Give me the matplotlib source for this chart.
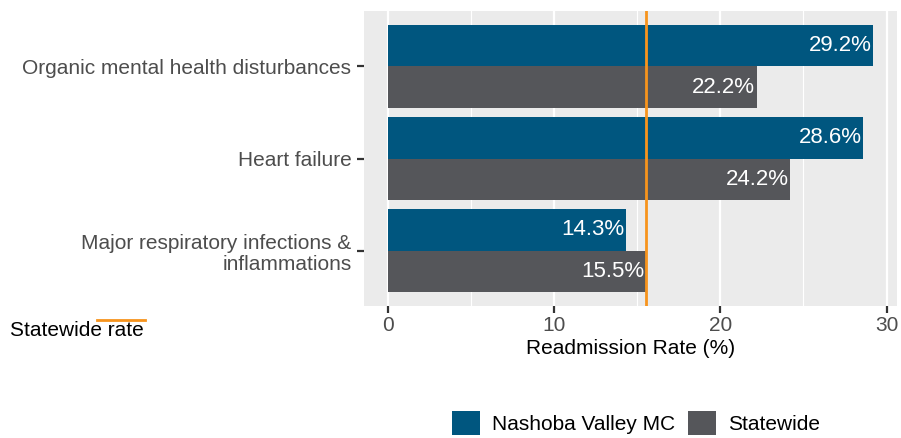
import matplotlib
matplotlib.use("Agg")
import matplotlib.pyplot as plt
from matplotlib.patches import Patch
from matplotlib.lines import Line2D
import numpy as np

plt.rcParams['font.family'] = ['Liberation Sans', 'DejaVu Sans']

categories = ["Organic mental health disturbances", "Heart failure",
              "Major respiratory infections &\ninflammations"]
hospital = [29.2, 28.6, 14.3]
statewide = [22.2, 24.2, 15.5]
statewide_rate = 15.5
series_names = ["Nashoba Valley MC", "Statewide"]
c_blue = "#00567f"
c_grey = "#55565a"
c_orange = "#f7941d"

fig = plt.figure(figsize=(9.01, 4.38), dpi=100)
ax = fig.add_axes([364/901, 1-306/438, (897-364)/901, (306-11)/438])
ax.set_facecolor("#ebebeb")

n = len(categories)
y = np.arange(n)  # 0 top
h = 0.45
ax.barh(y - h/2, hospital, height=h, color=c_blue, zorder=3)
ax.barh(y + h/2, statewide, height=h, color=c_grey, zorder=3)
for i in range(n):
    ax.text(hospital[i] - 0.1, y[i] - h/2, f"{hospital[i]:.1f}%", color="white",
            ha="right", va="center", fontsize=16, zorder=5)
    ax.text(statewide[i] - 0.1, y[i] + h/2, f"{statewide[i]:.1f}%", color="white",
            ha="right", va="center", fontsize=16, zorder=5)
ax.axvline(statewide_rate, color=c_orange, lw=2, zorder=4)

ax.set_xlim(-1.444, 30.63)
ax.set_ylim(n - 1 + 0.6, -0.6)
ax.set_xticks([0, 10, 20, 30])
ax.set_xticks([5, 15, 25], minor=True)
ax.grid(which="major", axis="x", color="white", lw=1.6, zorder=1)
ax.grid(which="minor", axis="x", color="white", lw=0.8, zorder=1)
ax.set_yticks(y)
ax.set_yticklabels(categories, fontsize=15, color="#4d4d4d", linespacing=1.15)
ax.tick_params(axis="x", which="major", labelsize=15, labelcolor="#4d4d4d",
               color="#333333", length=5, width=1.6, pad=2)
ax.tick_params(axis="x", which="minor", length=0)
ax.tick_params(axis="y", color="#333333", length=5, width=1.6, pad=4)
for s in ax.spines.values():
    s.set_visible(False)
ax.set_xlabel("Readmission Rate (%)", fontsize=15, color="black", labelpad=3)

# statewide rate key
fig.text(10/901, 1-331/438, "Statewide rate", fontsize=15, color="black",
         ha="left", va="center")
fig.add_artist(Line2D([97/901, 145/901], [1-320/438, 1-320/438],
                      color=c_orange, lw=2))

handles = [Patch(facecolor=c_blue, label=series_names[0]),
           Patch(facecolor=c_grey, label=series_names[1])]
fig.legend(handles=handles, loc="center", bbox_to_anchor=(636/901, 1-423/438),
           ncol=2, frameon=False, fontsize=15, handlelength=1.35, handleheight=1.35,
           handletextpad=0.55, columnspacing=0.65, borderpad=0, borderaxespad=0)

fig.savefig("out.png", dpi=100)
